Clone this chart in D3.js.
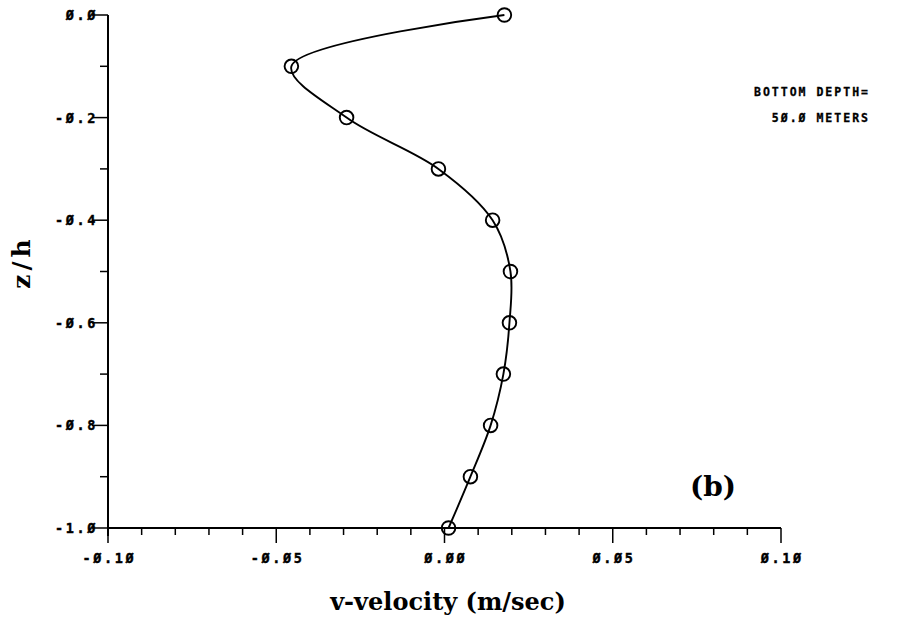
<!DOCTYPE html>
<html>
<head>
<meta charset="utf-8">
<script src="https://cdn.jsdelivr.net/npm/d3@7"></script>
<style>
  body { margin: 0; background: #fff; }
  .tick-label { font-family: "DejaVu Sans Mono", monospace; font-weight: bold; font-size: 13.5px; letter-spacing: 2.6px; stroke: #000; stroke-width: 0.4px; }
  .note { font-family: "DejaVu Sans Mono", monospace; font-weight: bold; font-size: 11.5px; letter-spacing: 2px; stroke: #000; stroke-width: 0.3px; }
  .title { font-family: "DejaVu Serif", "Liberation Serif", serif; font-weight: bold; }
</style>
</head>
<body>
<script>
// depth levels z/h and measured v-velocity (m/sec)
const depths = [0.0, -0.1, -0.2, -0.3, -0.4, -0.5, -0.6, -0.7, -0.8, -0.9, -1.0];
const velocity = [0.0178, -0.0455, -0.0291, -0.0018, 0.0143, 0.0196, 0.0193, 0.0175, 0.0137, 0.0077, 0.0012];
const xTicks = [-0.10, -0.05, 0.00, 0.05, 0.10];
const yTicks = [0.0, -0.2, -0.4, -0.6, -0.8, -1.0];
const noteLines = ["BOTTOM DEPTH=", "50.0 METERS"];

const width = 902, height = 625;
const svg = d3.select("body").append("svg")
  .attr("width", width)
  .attr("height", height);

svg.append("rect").attr("width", width).attr("height", height).attr("fill", "#fff");

const x = d3.scaleLinear().domain([-0.10, 0.10]).range([108, 781]);
const y = d3.scaleLinear().domain([-1.0, 0.0]).range([528, 15]);

// plotter style slashed zeros
const slash = s => s.replace(/0/g, "\u00d8");
const fmtX = d => (d < -1e-9 ? "-" : "") + slash(d3.format(".2f")(Math.abs(d)));
const fmtY = d => (d < -1e-9 ? "-" : "") + slash(d3.format(".1f")(Math.abs(d)));

// axes lines
const axes = svg.append("g").attr("stroke", "#000").attr("stroke-width", 2).attr("fill", "none");
axes.append("line").attr("x1", x(-0.10)).attr("x2", x(-0.10)).attr("y1", y(0)).attr("y2", y(-1) + 8);
axes.append("line").attr("x1", x(-0.10)).attr("x2", x(0.10)).attr("y1", y(-1)).attr("y2", y(-1));

// y ticks: major every 0.2, minor in between
d3.range(0, 11).forEach(i => {
  const v = -i / 10;
  const major = i % 2 === 0;
  axes.append("line")
    .attr("x1", x(-0.10) - (major ? 16 : 8)).attr("x2", x(-0.10))
    .attr("y1", y(v)).attr("y2", y(v))
    .attr("stroke-width", 1.5);
});
// x ticks: major every 0.05, minor every 0.01
d3.range(0, 21).forEach(i => {
  const v = -0.10 + i / 100;
  const major = i % 5 === 0;
  axes.append("line")
    .attr("x1", x(v)).attr("x2", x(v))
    .attr("y1", y(-1)).attr("y2", y(-1) + (major ? 15 : 7))
    .attr("stroke-width", 1.5);
});

svg.selectAll(".ylab").data(yTicks).enter().append("text")
  .attr("class", "tick-label")
  .attr("x", x(-0.10) - 10)
  .attr("y", d => y(d) + 5)
  .attr("text-anchor", "end")
  .text(fmtY);

svg.selectAll(".xlab").data(xTicks).enter().append("text")
  .attr("class", "tick-label")
  .attr("x", d => x(d) + 1.3)
  .attr("y", y(-1) + 35)
  .attr("text-anchor", "middle")
  .text(fmtX);

// profile curve
const pts = depths.map((z, i) => [velocity[i], z]);
const line = d3.line()
  .x(d => x(d[0]))
  .y(d => y(d[1]))
  .curve(d3.curveCatmullRom.alpha(0.5));

svg.append("path")
  .datum(pts)
  .attr("d", line)
  .attr("fill", "none")
  .attr("stroke", "#000")
  .attr("stroke-width", 1.9);

svg.selectAll(".pt").data(pts).enter().append("circle")
  .attr("cx", d => x(d[0]))
  .attr("cy", d => y(d[1]))
  .attr("r", 6.8)
  .attr("fill", "none")
  .attr("stroke", "#000")
  .attr("stroke-width", 1.9);

// note
svg.selectAll(".note").data(noteLines).enter().append("text")
  .attr("class", "note")
  .attr("x", 870)
  .attr("y", (d, i) => 96 + i * 26)
  .attr("text-anchor", "end")
  .text(d => slash(d));

// labels
svg.append("text").attr("class", "title")
  .attr("x", 713).attr("y", 496)
  .attr("text-anchor", "middle")
  .attr("font-size", 28)
  .text("(b)");

svg.append("text").attr("class", "title")
  .attr("transform", "translate(30,262) rotate(-90)")
  .attr("text-anchor", "middle")
  .attr("font-size", 25)
  .attr("letter-spacing", 4)
  .text("z/h");

svg.append("text").attr("class", "title")
  .attr("x", 448).attr("y", 610)
  .attr("text-anchor", "middle")
  .attr("font-size", 24)
  .text("v-velocity (m/sec)");
</script>
</body>
</html>
